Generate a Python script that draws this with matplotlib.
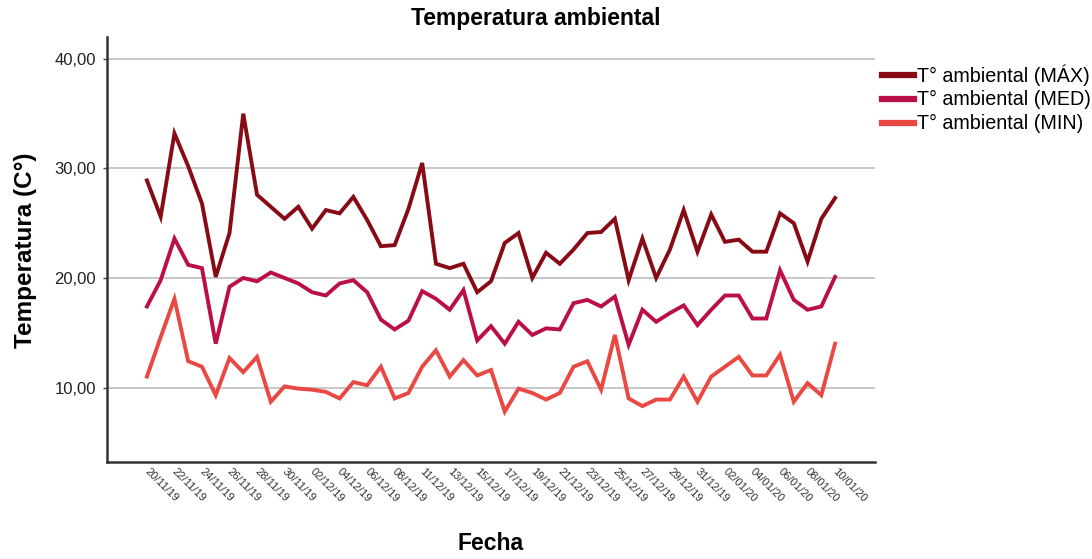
import matplotlib
matplotlib.use("Agg")
import matplotlib.pyplot as plt
import matplotlib.transforms as mtransforms
import numpy as np

plt.rcParams['font.family'] = ['Liberation Sans', 'DejaVu Sans']

dates = ["20/11/19", "21/11/19", "22/11/19", "23/11/19", "24/11/19", "25/11/19",
         "26/11/19", "27/11/19", "28/11/19", "29/11/19", "30/11/19", "01/12/19",
         "02/12/19", "03/12/19", "04/12/19", "05/12/19", "06/12/19", "07/12/19",
         "08/12/19", "10/12/19", "11/12/19", "12/12/19", "13/12/19", "14/12/19",
         "15/12/19", "16/12/19", "17/12/19", "18/12/19", "19/12/19", "20/12/19",
         "21/12/19", "22/12/19", "23/12/19", "24/12/19", "25/12/19", "26/12/19",
         "27/12/19", "28/12/19", "29/12/19", "30/12/19", "31/12/19", "01/01/20",
         "02/01/20", "03/01/20", "04/01/20", "05/01/20", "06/01/20", "07/01/20",
         "08/01/20", "09/01/20", "10/01/20"]

t_max = [28.9, 25.6, 33.2, 30.2, 26.8, 20.1, 24.1, 35.0, 27.6, 26.5,
         25.4, 26.5, 24.5, 26.2, 25.9, 27.4, 25.3, 22.9, 23.0, 26.3,
         30.5, 21.3, 20.9, 21.3, 18.7, 19.7, 23.2, 24.1, 20.0, 22.3,
         21.3, 22.6, 24.1, 24.2, 25.4, 19.8, 23.6, 20.0, 22.6, 26.2,
         22.4, 25.8, 23.3, 23.5, 22.4, 22.4, 25.9, 25.0, 21.5, 25.4,
         27.3]
t_med = [17.4, 19.8, 23.6, 21.2, 20.9, 14.0, 19.2, 20.0, 19.7, 20.5,
         20.0, 19.5, 18.7, 18.4, 19.5, 19.8, 18.7, 16.2, 15.3, 16.1,
         18.8, 18.1, 17.1, 18.9, 14.3, 15.6, 14.0, 16.0, 14.8, 15.4,
         15.3, 17.7, 18.0, 17.4, 18.3, 13.9, 17.1, 16.0, 16.8, 17.5,
         15.7, 17.1, 18.4, 18.4, 16.3, 16.3, 20.7, 18.0, 17.1, 17.4,
         20.1]
t_min = [11.0, 14.6, 18.1, 12.4, 11.9, 9.3, 12.7, 11.4, 12.8, 8.7,
         10.1, 9.9, 9.8, 9.6, 9.0, 10.5, 10.2, 11.9, 9.0, 9.5,
         11.9, 13.4, 11.0, 12.5, 11.1, 11.6, 7.8, 9.9, 9.5, 8.9,
         9.5, 11.9, 12.4, 9.8, 14.8, 9.0, 8.3, 8.9, 8.9, 11.0,
         8.7, 11.0, 11.9, 12.8, 11.1, 11.1, 13.0, 8.7, 10.4, 9.3,
         14.0]

series_names = ["T° ambiental (MÁX)", "T° ambiental (MED)", "T° ambiental (MIN)"]
series_colors = ["#870a15", "#bb0f47", "#ea4843"]
y_ticks = [10, 20, 30, 40]
y_tick_labels = ["10,00", "20,00", "30,00", "40,00"]

W, H = 1092, 559
fig = plt.figure(figsize=(W / 100, H / 100), dpi=100)
ax = fig.add_axes([107 / W, 1 - 462 / H, (875 - 107) / W, (462 - 37) / H])

x = np.arange(len(dates))
for vals, name, col in zip([t_max, t_med, t_min], series_names, series_colors):
    ax.plot(x, vals, color=col, lw=2.8, label=name, solid_joinstyle='miter')

ax.set_xlim(-2.9, len(dates) - 1 + 2.9)
ax.set_ylim(3.2, 42.0)

ax.set_yticks(y_ticks)
ax.set_yticklabels(y_tick_labels, fontsize=12, color="#222222")
ax.yaxis.grid(True, color="#bdbdbd", lw=1.2)
ax.set_axisbelow(True)

ax.set_xticks(x[::2])
ax.set_xticklabels(dates[::2], rotation=-45, ha='left', va='top',
                   rotation_mode='anchor', fontsize=8, color="#333333")
ax.tick_params(axis='x', length=0, pad=3)
ax.tick_params(axis='y', length=3, width=1, color="#444444", pad=5)
offset = mtransforms.ScaledTranslation(3 / 100, 0, fig.dpi_scale_trans)
for lbl in ax.get_xticklabels():
    lbl.set_transform(lbl.get_transform() + offset)

for s in ['top', 'right']:
    ax.spines[s].set_visible(False)
for s in ['left', 'bottom']:
    ax.spines[s].set_color("#333333")
    ax.spines[s].set_linewidth(1.8)

fig.text(536 / W, 1 - 19 / H, "Temperatura ambiental", ha='center', va='center',
         fontsize=16.5, fontweight='bold')
fig.text(491 / W, 1 - 544 / H, "Fecha", ha='center', va='center',
         fontsize=16.5, fontweight='bold')
fig.text(26 / W, 1 - 250 / H, "Temperatura (C°)", ha='center', va='center',
         rotation=90, fontsize=17.5, fontweight='bold')

leg = fig.legend(loc='upper left', bbox_to_anchor=(882 / W, 1 - 64 / H),
                 frameon=False, fontsize=14.2, handlelength=1.6,
                 handletextpad=0.15, labelspacing=0.25, borderaxespad=0,
                 borderpad=0)
for h in leg.get_lines():
    h.set_linewidth(4.5)

fig.savefig("out.png", dpi=100)
